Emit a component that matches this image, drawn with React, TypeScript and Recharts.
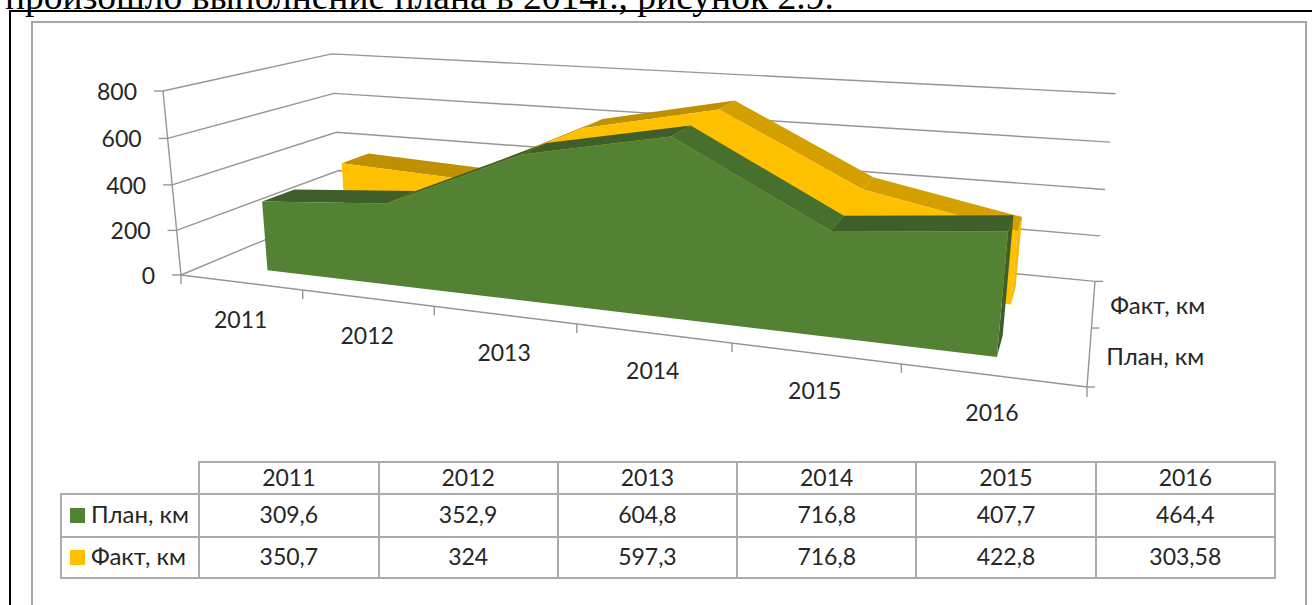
import { Area, CartesianGrid, ComposedChart, XAxis, YAxis } from "recharts"

const years = ["2011", "2012", "2013", "2014", "2015", "2016"]
const planKm = [309.6, 352.9, 604.8, 716.8, 407.7, 464.4]
const factKm = [350.7, 324, 597.3, 716.8, 422.8, 303.58]
const valueTicks = [0, 200, 400, 600, 800]

const chartData = years.map((year, i) => ({ year, plan: planKm[i], fact: factKm[i] }))

const CHART_W = 1312
const CHART_H = 605
const PLOT = { left: 100, top: 60, width: 1100, height: 440 }

const TEXT = "#262626"
const FRAME = "#a6a6a6"
const AXIS = "#969696"
const LABEL_FONT = "Lato, 'Open Sans', sans-serif"
const LABEL_SIZE = 23

// image of the unit box corners, the flat plot gets mapped through this
const O = [181, 275]
const U = [1087, 387]
const V = [163, 91]
const D = [341, 208]
const wU = 0.776
const wV = 0.96
const wD = 1.204

function box(u: number, v: number, d: number) {
    const w = 1 + u * (wU - 1) + v * (wV - 1) + d * (wD - 1)
    const at = (k: number) =>
        O[k] + u * (wU * U[k] - O[k]) + v * (wV * V[k] - O[k]) + d * (wD * D[k] - O[k])
    return [at(0) / w, at(1) / w]
}

// flat plot pixel -> picture pixel
function project(x: number, y: number, d: number) {
    return box((x - PLOT.left) / PLOT.width, (PLOT.top + PLOT.height - y) / PLOT.height, d)
}

const toPts = (pts: number[][]) => pts.map((p) => `${p[0].toFixed(1)},${p[1].toFixed(1)}`).join(" ")

const seg = (a: number[], b: number[]) => (
    <line x1={a[0]} y1={a[1]} x2={b[0]} y2={b[1]} stroke={AXIS} strokeWidth={1.4} />
)

function WallLine(props: any) {
    const { x1, x2, y1 } = props
    const isFloor = Math.abs(y1 - (PLOT.top + PLOT.height)) < 0.5
    const frontLeft = project(x1, y1, 0)
    const backLeft = project(x1, y1, 1)
    const backRight = project(x2, y1, 1)
    return (
        <g key={props.key ?? y1}>
            <polyline points={toPts([frontLeft, backLeft, backRight])} fill="none" stroke={AXIS} strokeWidth={1.4} />
            {isFloor && (
                <g>
                    {seg(frontLeft, project(x2, y1, 0))}
                    {seg(frontLeft, project(x1, PLOT.top, 0))}
                    {seg(project(x2, y1, 0), backRight)}
                    {[0, 0.5, 1].map((d) => {
                        const p = project(x2, y1, d)
                        return <g key={d}>{seg(p, [p[0] + 8, p[1]])}</g>
                    })}
                </g>
            )}
        </g>
    )
}

function YearTick(props: any) {
    const { x, payload, index } = props
    const base = PLOT.top + PLOT.height
    const band = PLOT.width / years.length
    const p = project(x, base, 0)
    const start = project(x - band / 2, base, 0)
    const end = project(x + band / 2, base, 0)
    return (
        <g>
            {seg(start, [start[0], start[1] + 9])}
            {index === years.length - 1 && seg(end, [end[0], end[1] + 10])}
            <text x={p[0]} y={p[1] + 46} textAnchor="middle" fontSize={LABEL_SIZE} fontFamily={LABEL_FONT} fill={TEXT}>
                {payload.value}
            </text>
        </g>
    )
}

function ValueTick(props: any) {
    const { y, payload } = props
    const p = project(PLOT.left, y, 0)
    return (
        <g>
            {seg(p, [p[0] - 9, p[1]])}
            <text x={p[0] - 26} y={p[1] + 9} textAnchor="end" fontSize={LABEL_SIZE} fontFamily={LABEL_FONT} fill={TEXT}>
                {payload.value}
            </text>
        </g>
    )
}

// one extruded area: back edge to front edge in depth, top ribbon, end cap, front face
function ribbon(opts: {
    front: number
    back: number
    face: string
    top: string
    topDown: string
    side: string
    label: string
    labelDepth: number
    labelDx: number
    labelDy: number
}) {
    return (props: any) => {
        const { index, points } = props
        if (index !== 0 || !points) return <g key={index} />
        const base = PLOT.top + PLOT.height
        const n = points.length
        const frontTop = points.map((p: any) => project(p.x, p.y, opts.front))
        const backTop = points.map((p: any) => project(p.x, p.y, opts.back))
        const lab = project(PLOT.left + PLOT.width, base, opts.labelDepth)
        return (
            <g key="faces">
                {points.slice(0, -1).map((p: any, i: number) => {
                    const falling = p.value?.[1] - points[i + 1].value?.[1] > 100
                    return (
                        <polygon
                            key={i}
                            points={toPts([frontTop[i], frontTop[i + 1], backTop[i + 1], backTop[i]])}
                            fill={falling ? opts.topDown : opts.top}
                        />
                    )
                })}
                <polygon
                    points={toPts([
                        frontTop[n - 1],
                        backTop[n - 1],
                        project(points[n - 1].x, base, opts.back),
                        project(points[n - 1].x, base, opts.front),
                    ])}
                    fill={opts.side}
                />
                <polygon
                    points={toPts([
                        ...frontTop,
                        project(points[n - 1].x, base, opts.front),
                        project(points[0].x, base, opts.front),
                    ])}
                    fill={opts.face}
                />
                <text
                    x={lab[0] + opts.labelDx}
                    y={lab[1] + opts.labelDy}
                    fontSize={24}
                    fontFamily={LABEL_FONT}
                    fill={TEXT}
                >
                    {opts.label}
                </text>
            </g>
        )
    }
}

const factFaces = ribbon({
    front: 0.65,
    back: 0.84,
    face: "#ffc000",
    top: "#bf9000",
    topDown: "#d4a000",
    side: "#f7bb00",
    label: "Факт, км",
    labelDepth: 0.75,
    labelDx: 17,
    labelDy: 11,
})

const planFaces = ribbon({
    front: 0.15,
    back: 0.34,
    face: "#548235",
    top: "#3e5f29",
    topDown: "#476f2e",
    side: "#3e5f29",
    label: "План, км",
    labelDepth: 0.245,
    labelDx: 17,
    labelDy: 9,
})

const fmt = (v: number) => String(v).replace(".", ",")

const cell: React.CSSProperties = {
    border: `2px solid #ababab`,
    textAlign: "center",
    padding: "0 0 3px 0",
    width: 179,
    boxSizing: "border-box",
}

function DataTable() {
    const rows = [
        { name: "План, км", color: "#548235", values: planKm },
        { name: "Факт, км", color: "#ffc000", values: factKm },
    ]
    return (
        <table
            style={{
                position: "absolute",
                left: 60,
                top: 461,
                borderCollapse: "collapse",
                tableLayout: "fixed",
                width: 1216,
                fontFamily: LABEL_FONT,
                fontSize: LABEL_SIZE,
                lineHeight: "24px",
                color: TEXT,
            }}
        >
            <tbody>
                <tr style={{ height: 32 }}>
                    <td style={{ width: 137, padding: 0 }} />
                    {years.map((y) => (
                        <td key={y} style={cell}>
                            {y}
                        </td>
                    ))}
                </tr>
                {rows.map((r, i) => (
                    <tr key={r.name} style={{ height: i === 0 ? 43 : 41 }}>
                        <td style={{ ...cell, width: 137, textAlign: "left", whiteSpace: "nowrap", fontSize: 24 }}>
                            <span
                                style={{
                                    display: "inline-block",
                                    width: 15,
                                    height: 15,
                                    marginLeft: 8,
                                    marginRight: 6,
                                    background: r.color,
                                }}
                            />
                            {r.name}
                        </td>
                        {r.values.map((v, j) => (
                            <td key={j} style={cell}>
                                {fmt(v)}
                            </td>
                        ))}
                    </tr>
                ))}
            </tbody>
        </table>
    )
}

export default function App() {
    return (
        <div
            style={{
                position: "fixed",
                left: 0,
                top: 0,
                width: CHART_W,
                height: CHART_H,
                overflow: "hidden",
                background: "#fff",
            }}
        >
            <div
                style={{
                    position: "absolute",
                    left: 5,
                    top: -21,
                    fontFamily: "'Liberation Serif', serif",
                    fontSize: 37.5,
                    lineHeight: "36px",
                    color: "#000",
                    whiteSpace: "nowrap",
                }}
            >
                произошло выполнение плана в 2014г., рисунок 2.9.
            </div>
            <div style={{ position: "absolute", left: 9, top: 10, width: 1303, height: 2, background: "#000" }} />
            <div style={{ position: "absolute", left: 9, top: 10, width: 2, height: 595, background: "#000" }} />
            <div
                style={{
                    position: "absolute",
                    left: 31,
                    top: 21,
                    width: 1272,
                    height: 600,
                    border: `2px solid ${FRAME}`,
                }}
            />
            <div style={{ position: "absolute", left: 0, top: 0 }}>
                <ComposedChart
                    width={CHART_W}
                    height={CHART_H}
                    data={chartData}
                    margin={{
                        top: PLOT.top,
                        left: PLOT.left - 1,
                        right: CHART_W - PLOT.left - PLOT.width,
                        bottom: CHART_H - PLOT.top - PLOT.height - 1,
                    }}
                >
                    <CartesianGrid vertical={false} horizontal={WallLine} />
                    <XAxis
                        dataKey="year"
                        scale="band"
                        height={1}
                        interval={0}
                        axisLine={false}
                        tickLine={false}
                        tick={YearTick}
                    />
                    <YAxis
                        width={1}
                        domain={[0, 800]}
                        ticks={valueTicks}
                        interval={0}
                        axisLine={false}
                        tickLine={false}
                        tick={ValueTick}
                    />
                    <Area
                        dataKey="fact"
                        type="linear"
                        fill="none"
                        stroke="none"
                        isAnimationActive={false}
                        dot={factFaces}
                    />
                    <Area
                        dataKey="plan"
                        type="linear"
                        fill="none"
                        stroke="none"
                        isAnimationActive={false}
                        dot={planFaces}
                    />
                </ComposedChart>
            </div>
            <DataTable />
        </div>
    )
}
